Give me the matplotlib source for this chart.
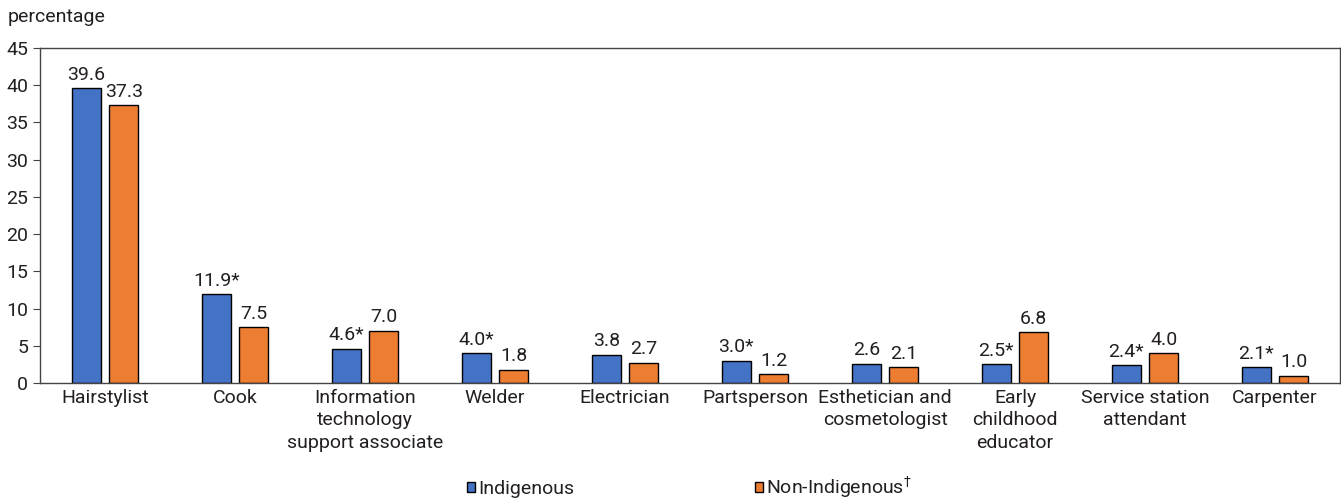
import numpy as np
import matplotlib.pyplot as plt
from matplotlib.patches import Patch

plt.rcParams['font.family'] = ['Roboto', 'DejaVu Sans']

categories = ['Hairstylist', 'Cook', 'Information\ntechnology\nsupport associate', 'Welder',
              'Electrician', 'Partsperson', 'Esthetician and\ncosmetologist',
              'Early\nchildhood\neducator', 'Service station\nattendant', 'Carpenter']
indigenous = [39.6, 11.9, 4.6, 4.0, 3.8, 3.0, 2.6, 2.5, 2.4, 2.1]
non_indigenous = [37.3, 7.5, 7.0, 1.8, 2.7, 1.2, 2.1, 6.8, 4.0, 1.0]
significant = [False, True, True, True, False, True, False, True, True, True]

blue = '#4472C4'
orange = '#ED7D31'
text_col = '#231F20'
fs = 14

fig = plt.figure(figsize=(13.41, 4.99), dpi=100)
ax = fig.add_axes([0.0298, 0.2325, 0.9695, 0.6713])

x = np.arange(len(categories))
w = 0.225
off = 0.144
ax.bar(x - off, indigenous, w, color=blue, edgecolor='black', linewidth=1)
ax.bar(x + off, non_indigenous, w, color=orange, edgecolor='black', linewidth=1)

for i in range(len(categories)):
    lab = f'{indigenous[i]:.1f}' + ('*' if significant[i] else '')
    ax.text(x[i] - off, indigenous[i] + 0.6, lab, ha='center', va='bottom', fontsize=fs, color=text_col)
    ax.text(x[i] + off, non_indigenous[i] + 0.6, f'{non_indigenous[i]:.1f}', ha='center', va='bottom',
            fontsize=fs, color=text_col)

ax.set_xlim(-0.5, len(categories) - 0.5)
ax.set_ylim(0, 45)
ax.set_yticks(range(0, 46, 5))
ax.set_xticks(x)
ax.set_xticklabels(categories, fontsize=fs, color=text_col, linespacing=1.35)
ax.tick_params(axis='x', length=0, pad=4)
ax.tick_params(axis='y', labelsize=fs, labelcolor=text_col, length=5, direction='out', color='#444444')
for s in ax.spines.values():
    s.set_color('#444444')
    s.set_linewidth(1)

fig.text(0.006, 0.965, 'percentage', fontsize=fs, color=text_col, va='center')

handles = [Patch(facecolor=blue, edgecolor='black', linewidth=1),
           Patch(facecolor=orange, edgecolor='black', linewidth=1)]
fig.legend(handles, ['Indigenous', 'Non-Indigenous$^{\u2020}$'], loc='lower center',
           bbox_to_anchor=(0.514, -0.037), ncol=2, frameon=False, fontsize=fs,
           handlelength=0.42, handleheight=0.42, handletextpad=0.15, columnspacing=9.3,
           labelcolor=text_col)

fig.savefig('out.png', dpi=100)
